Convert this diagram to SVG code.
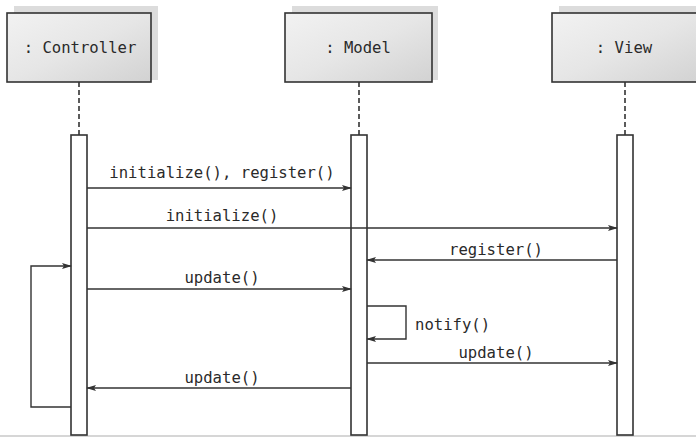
<svg xmlns="http://www.w3.org/2000/svg" width="696" height="437" viewBox="0 0 696 437">
<style>
.shadow{fill:#dcdcdc;stroke:none}
.box{fill:url(#g);stroke:#333;stroke-width:1.6}
.t{font-family:"DejaVu Sans Mono","Liberation Mono",monospace;font-size:15.6px;fill:#2a2a2a}
.life{stroke:#333;stroke-width:1.6;stroke-dasharray:5 3;fill:none}
.bar{fill:#fff;stroke:#333;stroke-width:1.6}
.msg{stroke:#333;stroke-width:1.4;fill:none}
</style>
<defs>
<linearGradient id="g" x1="0" y1="0" x2="1" y2="1">
<stop offset="0" stop-color="#f2f2f2"/>
<stop offset="0.5" stop-color="#e6e6e6"/>
<stop offset="1" stop-color="#d2d2d2"/>
</linearGradient>
<marker id="a" markerWidth="10" markerHeight="8" refX="9" refY="4" orient="auto" markerUnits="userSpaceOnUse">
<path d="M0,1 L10,4 L0,7 L2,4 Z" fill="#333"/>
</marker>
</defs>
<rect width="696" height="437" fill="#fff"/>
<line x1="0" y1="436" x2="696" y2="436" stroke="#c8c8c8" stroke-width="1.5"/>
<g id="controller">
<rect class="shadow" x="14" y="6" width="144" height="74"/>
<rect class="box" x="7" y="13" width="144" height="69"/>
<text class="t" x="80" y="53" text-anchor="middle">: Controller</text>
<line class="life" x1="79" y1="82" x2="79" y2="135"/>
<rect class="bar" x="71" y="135" width="16" height="300"/>
</g>
<g id="model">
<rect class="shadow" x="292" y="6" width="146" height="74"/>
<rect class="box" x="285" y="13" width="147" height="69"/>
<text class="t" x="358" y="53" text-anchor="middle">: Model</text>
<line class="life" x1="359" y1="82" x2="359" y2="135"/>
<rect class="bar" x="351" y="135" width="16" height="300"/>
</g>
<g id="view">
<rect class="shadow" x="559" y="6" width="140" height="74"/>
<rect class="box" x="552" y="13" width="150" height="69"/>
<text class="t" x="624" y="53" text-anchor="middle">: View</text>
<line class="life" x1="625" y1="82" x2="625" y2="135"/>
<rect class="bar" x="617" y="135" width="16" height="300"/>
</g>
<g id="connectors">
<line class="msg" x1="87" y1="188" x2="351" y2="188" marker-end="url(#a)"/>
<line class="msg" x1="87" y1="228" x2="617" y2="228" marker-end="url(#a)"/>
<line class="msg" x1="617" y1="260" x2="367" y2="260" marker-end="url(#a)"/>
<line class="msg" x1="87" y1="289" x2="351" y2="289" marker-end="url(#a)"/>
<polyline class="msg" points="71,407 31,407 31,266 71,266" marker-end="url(#a)"/>
<polyline class="msg" points="367,306 406,306 406,339 367,339" marker-end="url(#a)"/>
<line class="msg" x1="367" y1="363" x2="617" y2="363" marker-end="url(#a)"/>
<line class="msg" x1="351" y1="388" x2="87" y2="388" marker-end="url(#a)"/>
<text class="t" x="222" y="178" text-anchor="middle">initialize(), register()</text>
<text class="t" x="222" y="221" text-anchor="middle">initialize()</text>
<text class="t" x="496" y="255" text-anchor="middle">register()</text>
<text class="t" x="222" y="283" text-anchor="middle">update()</text>
<text class="t" x="415" y="330">notify()</text>
<text class="t" x="496" y="358" text-anchor="middle">update()</text>
<text class="t" x="222" y="383" text-anchor="middle">update()</text>
</g>
</svg>
